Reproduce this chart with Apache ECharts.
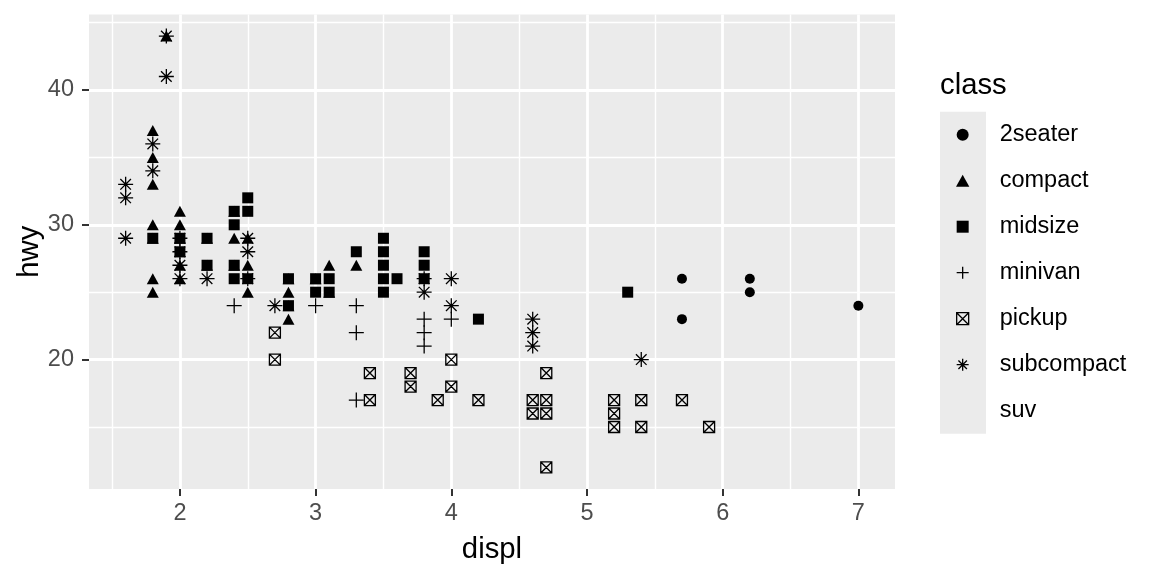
<!DOCTYPE html>
<html>
<head>
<meta charset="utf-8">
<script src="https://cdn.jsdelivr.net/npm/echarts@6/dist/echarts.min.js"></script>
<style>
  html, body { margin: 0; padding: 0; background: #fff; }
  #chart { width: 1152px; height: 576px; }
</style>
</head>
<body>
<div id="chart"></div>
<script>
// legend order (ggplot factor levels)
const classNames = ['2seater', 'compact', 'midsize', 'minivan', 'pickup', 'subcompact', 'suv'];

// [displ, hwy] pairs
const seater2 = [[5.7, 26], [5.7, 23], [6.2, 26], [6.2, 25], [7.0, 24]];
const compact = [
  [1.8, 37], [1.8, 35], [1.8, 33], [1.8, 30], [1.8, 29], [1.8, 26], [1.8, 25], [1.9, 44],
  [2.0, 31], [2.0, 30], [2.0, 29], [2.0, 28], [2.0, 27], [2.0, 26], [2.2, 29], [2.2, 27],
  [2.4, 31], [2.4, 29], [2.4, 27], [2.5, 29], [2.5, 27], [2.5, 25], [2.8, 26], [2.8, 25],
  [2.8, 24], [2.8, 23], [3.0, 26], [3.1, 27], [3.1, 25], [3.3, 27]
];
const midsize = [
  [1.8, 29], [2.0, 29], [2.0, 28], [2.2, 29], [2.2, 27], [2.4, 31], [2.4, 30], [2.4, 27],
  [2.4, 26], [2.5, 32], [2.5, 31], [2.5, 26], [2.8, 26], [2.8, 24], [3.0, 26], [3.0, 25],
  [3.1, 26], [3.1, 25], [3.3, 28], [3.5, 29], [3.5, 28], [3.5, 27], [3.5, 26], [3.5, 25],
  [3.6, 26], [3.8, 28], [3.8, 27], [3.8, 26], [4.2, 23], [5.3, 25]
];
const minivan = [
  [2.4, 24], [3.0, 24], [3.3, 24], [3.3, 22], [3.3, 17], [3.8, 23], [3.8, 22], [3.8, 21], [4.0, 23]
];
const pickup = [
  [2.7, 22], [2.7, 20], [3.4, 19], [3.4, 17], [3.7, 19], [3.7, 18], [3.9, 17], [4.0, 20],
  [4.0, 18], [4.2, 17], [4.6, 17], [4.6, 16], [4.7, 19], [4.7, 17], [4.7, 16], [4.7, 12],
  [5.2, 17], [5.2, 16], [5.2, 15], [5.4, 17], [5.4, 15], [5.7, 17], [5.9, 15]
];
const subcompact = [
  [1.6, 33], [1.6, 32], [1.6, 29], [1.8, 36], [1.8, 34], [1.9, 44], [1.9, 41], [2.0, 29],
  [2.0, 28], [2.0, 27], [2.0, 26], [2.2, 26], [2.5, 29], [2.5, 28], [2.5, 26], [2.7, 24],
  [3.8, 26], [3.8, 25], [4.0, 26], [4.0, 24], [4.6, 23], [4.6, 22], [4.6, 21], [5.4, 20]
];
const suv = []; // no shape left for the 7th level, so nothing is drawn

// axis breaks
const xMajor = [2, 3, 4, 5, 6, 7];
const xMinor = [1.5, 2.5, 3.5, 4.5, 5.5, 6.5];
const yMajor = [20, 30, 40];
const yMinor = [15, 25, 35, 45];

const FONT = '"Liberation Sans", Arial, sans-serif';

const TRI = 'path://M5,0L10,9L0,9Z';
const SQR = 'path://M0,0L10,0L10,10L0,10Z';
const PLUS = 'path://M5,0L5,10M0,5L10,5';
const BOXX = 'path://M0,0L10,0L10,10L0,10ZM0,0L10,10M10,0L0,10';
const STAR = 'path://M5,0L5,10M0,5L10,5M1.464,1.464L8.536,8.536M8.536,1.464L1.464,8.536';

// shape per class, like scale_shape()
const shapes = {
  '2seater': { symbol: 'circle', icon: 'circle', size: 10, filled: true },
  compact: { symbol: 'triangle', icon: TRI, size: [12, 11], filled: true },
  midsize: { symbol: 'rect', icon: SQR, size: 11, filled: true },
  minivan: { symbol: PLUS, icon: PLUS, size: 15, filled: false },
  pickup: { symbol: BOXX, icon: BOXX, size: 11, filled: false },
  subcompact: { symbol: STAR, icon: STAR, size: 15, filled: false },
  suv: { symbol: 'circle', icon: 'circle', size: 1, filled: true, hidden: true }
};

const pointsOf = {
  '2seater': seater2, compact, midsize, minivan, pickup, subcompact, suv
};

// drawing order: later series on top
const drawOrder = ['pickup', 'minivan', 'subcompact', 'compact', 'midsize', '2seater', 'suv'];

const gridLines = [
  ...xMinor.map(v => ({ xAxis: v, lineStyle: { width: 1.4 } })),
  ...yMinor.map(v => ({ yAxis: v, lineStyle: { width: 1.4 } })),
  ...xMajor.map(v => ({ xAxis: v, lineStyle: { width: 2.8 } })),
  ...yMajor.map(v => ({ yAxis: v, lineStyle: { width: 2.8 } }))
];

const series = drawOrder.map((name, i) => {
  const s = shapes[name];
  const item = {
    name: name,
    type: 'scatter',
    data: pointsOf[name],
    symbol: s.symbol,
    symbolSize: s.size,
    z: 2,
    itemStyle: s.hidden
      ? { color: 'transparent', borderWidth: 0, opacity: 1 }
      : s.filled
        ? { color: '#000', borderWidth: 0, opacity: 1 }
        : { color: 'transparent', borderColor: '#000', borderWidth: 1.3, opacity: 1 },
    emphasis: { disabled: true }
  };
  if (i === 0) {
    item.markLine = {
      silent: true,
      z: 1,
      symbol: ['none', 'none'],
      label: { show: false },
      lineStyle: { color: '#fff', type: 'solid' },
      emphasis: { disabled: true },
      animation: false,
      data: gridLines
    };
  }
  return item;
});

const legendData = classNames.map(name => {
  const s = shapes[name];
  return {
    name: name,
    icon: s.icon,
    itemStyle: s.filled ? { borderWidth: 0, opacity: 1 } : { borderWidth: 1.3, opacity: 1 }
  };
});

const chart = echarts.init(document.getElementById('chart'), null, { renderer: 'canvas' });

chart.setOption({
  animation: false,
  textStyle: { fontFamily: FONT },
  title: {
    text: 'class',
    left: 940,
    top: 71,
    padding: 0,
    textStyle: { fontFamily: FONT, fontSize: 29.3, fontWeight: 'normal', color: '#000' }
  },
  graphic: [{
    type: 'rect',
    silent: true,
    z: -1,
    shape: { x: 940, y: 111.7, width: 46, height: 322 },
    style: { fill: '#EBEBEB' }
  }],
  legend: {
    orient: 'vertical',
    left: 956,
    top: 122.7,
    padding: 0,
    itemWidth: 64,
    itemHeight: 12,
    itemGap: 22,
    symbolKeepAspect: true,
    selectedMode: false,
    data: legendData,
    textStyle: { fontFamily: FONT, fontSize: 23.5, lineHeight: 24, color: '#000' }
  },
  grid: {
    left: 89,
    right: 257,
    top: 14.5,
    bottom: 87,
    show: true,
    backgroundColor: '#EBEBEB',
    borderWidth: 0,
    outerBoundsMode: 'none'
  },
  xAxis: {
    type: 'value',
    min: 1.33,
    max: 7.27,
    name: 'displ',
    nameLocation: 'middle',
    nameGap: 46,
    nameTextStyle: { fontFamily: FONT, fontSize: 29.3, color: '#000' },
    axisLine: { show: false },
    axisTick: { show: true, length: 7, customValues: xMajor, lineStyle: { color: '#333', width: 2 } },
    axisLabel: { customValues: xMajor, margin: 13, color: '#4D4D4D', fontFamily: FONT, fontSize: 23.5 },
    splitLine: { show: false }
  },
  yAxis: {
    type: 'value',
    min: 10.4,
    max: 45.6,
    name: 'hwy',
    nameLocation: 'middle',
    nameGap: 45,
    nameMoveOverlap: false,
    nameRotate: 90,
    nameTextStyle: { fontFamily: FONT, fontSize: 29.3, color: '#000' },
    axisLine: { show: false },
    axisTick: { show: true, length: 7, customValues: yMajor, lineStyle: { color: '#333', width: 2 } },
    axisLabel: { customValues: yMajor, margin: 15, color: '#4D4D4D', fontFamily: FONT, fontSize: 23.5 },
    splitLine: { show: false }
  },
  series: series
});
</script>
</body>
</html>
